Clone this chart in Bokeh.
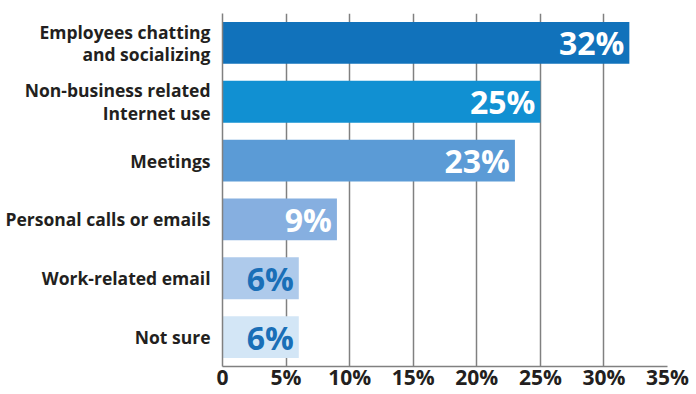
from bokeh.plotting import figure
from bokeh.models import ColumnDataSource, FixedTicker, FactorRange, Range1d
from bokeh.core.properties import value
from bokeh.embed import file_html
from bokeh.resources import INLINE

categories = ["Employees chatting\nand socializing", "Non-business related\nInternet use", "Meetings",
              "Personal calls or emails", "Work-related email", "Not sure"]
values = [32, 25, 23, 9, 6, 6]
labels = ["32%", "25%", "23%", "9%", "6%", "6%"]
bar_colors = ["#1172bb", "#1190d2", "#5b9bd6", "#86afe0", "#aecaeb", "#d3e6f6"]
label_colors = ["#ffffff", "#ffffff", "#ffffff", "#ffffff", "#1a6fb7", "#1a6fb7"]
tick_values = [0, 5, 10, 15, 20, 25, 30, 35]
tick_labels = ["0", "5%", "10%", "15%", "20%", "25%", "30%", "35%"]

src = ColumnDataSource(dict(cat=categories, val=values, lab=labels, col=bar_colors, lcol=label_colors))

p = figure(width=696, height=394, output_backend="svg", toolbar_location=None,
           y_range=FactorRange(*reversed(categories)), x_range=Range1d(0, 35),
           min_border_left=222, min_border_right=29, min_border_top=13, min_border_bottom=28)
p.outline_line_color = None
p.background_fill_color = "white"

p.hbar(y="cat", right="val", left=0, height=0.71, fill_color="col", line_color=None, source=src)
p.text(x="val", y="cat", text="lab", text_color="lcol", source=src, x_offset=-5,
       text_align="right", text_baseline="middle", text_font=value("Open Sans"),
       text_font_style="bold", text_font_size="32px")

p.xaxis.ticker = FixedTicker(ticks=tick_values)
p.xaxis.major_label_overrides = {t: l for t, l in zip(tick_values, tick_labels)}
p.xaxis.major_tick_line_color = None
p.xaxis.minor_tick_line_color = None
p.xaxis.axis_line_color = "#808080"
p.xaxis.axis_line_width = 1.5
p.xaxis.major_label_standoff = -10
p.xaxis.major_label_text_font = "Open Sans"
p.xaxis.major_label_text_font_style = "bold"
p.xaxis.major_label_text_font_size = "21px"
p.xaxis.major_label_text_color = "#231f20"

p.yaxis.major_tick_line_color = None
p.yaxis.minor_tick_line_color = None
p.yaxis.axis_line_color = "#808080"
p.yaxis.axis_line_width = 1.5
p.yaxis.major_label_standoff = 6
p.yaxis.major_label_text_font = "Open Sans"
p.yaxis.major_label_text_font_style = "bold"
p.yaxis.major_label_text_font_size = "17.5px"
p.yaxis.major_label_text_color = "#231f20"
p.yaxis.major_label_text_line_height = 0.95

p.xgrid.ticker = FixedTicker(ticks=tick_values)
p.xgrid.grid_line_color = "#808080"
p.xgrid.grid_line_width = 1.5
p.ygrid.grid_line_color = None

open("out.html", "w").write(file_html(p, INLINE))
